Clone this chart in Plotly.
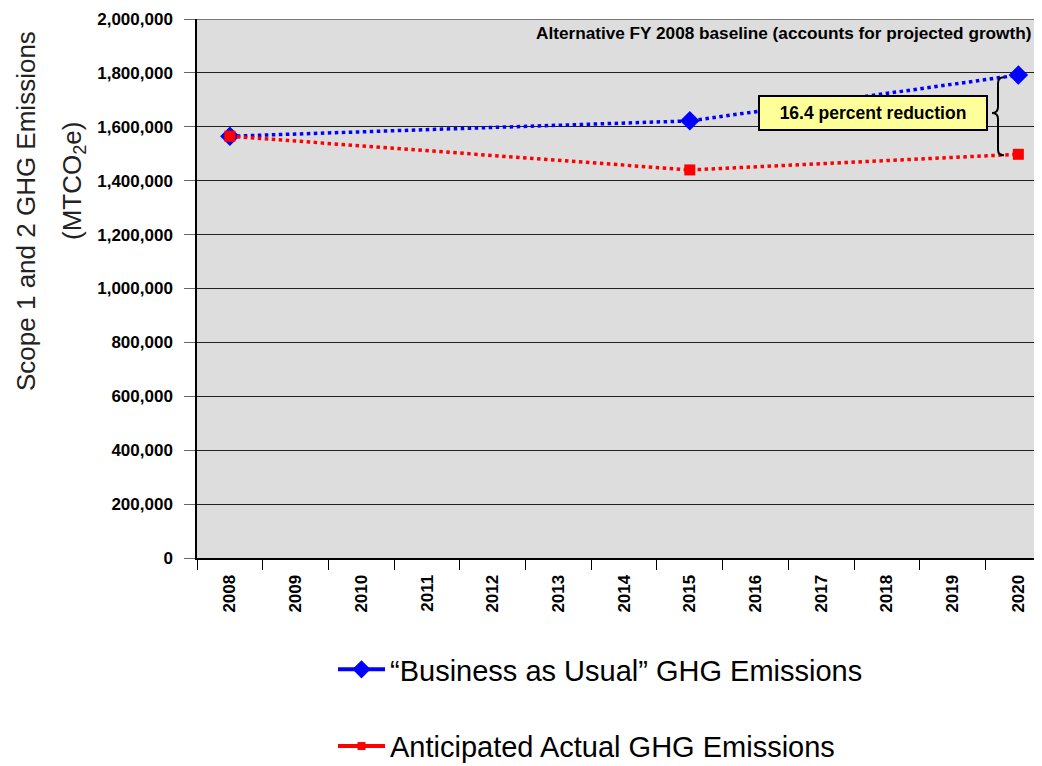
import plotly.graph_objects as go

years = [str(y) for y in range(2008, 2021)]
point_years = ["2008", "2015", "2020"]
bau_values = [1565000, 1622000, 1792000]
actual_values = [1565000, 1440000, 1498000]

bau_name = "\u201cBusiness as Usual\u201d GHG Emissions"
actual_name = "Anticipated Actual GHG Emissions"
y_title_line1 = "Scope 1 and 2 GHG Emissions"
y_title_line2 = "(MTCO<sub>2</sub>e)"
baseline_note = "Alternative FY 2008 baseline (accounts for projected growth)"
reduction_note = "16.4 percent reduction"
y_ticks = list(range(0, 2000001, 200000))

FONT = "Arial, Liberation Sans, sans-serif"
BLUE = "#0000FF"
RED = "#FF0000"

PAGE_W, PAGE_H, OFF = 1042, 766, 8   # page has an 8px body margin
L, R, T, B = 197, 1042, 19, 558      # plot area in page pixels
YMAX = 2000000


def px(xp):
    return (xp - L) / (R - L)


def py(yp):
    return (B - yp) / (B - T)


def vy(yp):
    return py(yp) * YMAX


fig = go.Figure()

# category placeholder so all years appear
fig.add_trace(go.Scatter(x=years, y=[None] * len(years), mode="lines",
                         showlegend=False, hoverinfo="skip"))

fig.add_trace(go.Scatter(
    x=point_years, y=bau_values, mode="lines+markers", showlegend=False,
    line=dict(color=BLUE, width=3.5, dash="dot"),
    marker=dict(symbol="diamond", size=15, color=BLUE)))
fig.add_trace(go.Scatter(
    x=point_years, y=actual_values, mode="lines+markers", showlegend=False,
    line=dict(color=RED, width=3.5, dash="dot"),
    marker=dict(symbol="square", size=11, color=RED)))

# legend entries (solid lines as in the reference)
fig.add_trace(go.Scatter(
    x=[None], y=[None], mode="lines+markers", name=bau_name, legendgroup="a",
    line=dict(color=BLUE, width=4), marker=dict(symbol="diamond", size=14, color=BLUE)))
fig.add_trace(go.Scatter(
    x=[None], y=[None], mode="lines+markers", name=actual_name, legendgroup="b",
    line=dict(color=RED, width=4), marker=dict(symbol="square", size=8, color=RED)))

# brace between BAU 2020 and actual 2020
yt, yb = bau_values[-1] - 8000, actual_values[-1] - 4000
ym = vy(113)
e = 22000
xr, xm, xl = px(1004), px(998), px(992)
brace = (f"M {xr},{yt} Q {xm},{yt} {xm},{yt - e} L {xm},{ym + e} "
         f"Q {xm},{ym} {xl},{ym} Q {xm},{ym} {xm},{ym - e} "
         f"L {xm},{yb + e} Q {xm},{yb} {xr},{yb}")
fig.add_shape(type="path", path=brace, xref="paper", yref="y",
              line=dict(color="black", width=2))

# top border line (gray)
fig.add_shape(type="line", xref="paper", yref="y", x0=0, x1=1, y0=YMAX, y1=YMAX,
              line=dict(color="#777777", width=2))

fig.add_annotation(x=px(783), y=py(33), xref="paper", yref="paper",
                   xanchor="center", yanchor="middle",
                   text=f"<b>{baseline_note}</b>", showarrow=False,
                   font=dict(family=FONT, size=17.2, color="black"))
fig.add_annotation(x=point_years[-1], y=bau_values[-1], xref="x", yref="y",
                   text="", showarrow=True, arrowhead=0, arrowwidth=1,
                   arrowcolor="#555555", ax=-14, ay=-28, standoff=11)
fig.add_annotation(x=px(873), y=vy(112.5), xref="paper", yref="y",
                   xanchor="center", yanchor="middle",
                   text=f"<b>{reduction_note}</b>", showarrow=False,
                   bgcolor="#FFFF99", bordercolor="black", borderwidth=2,
                   borderpad=6, width=214,
                   font=dict(family=FONT, size=17.5, color="black"))

# y-axis title, two rotated lines placed like the reference
fig.add_annotation(x=px(26), y=py(211), xref="paper", yref="paper",
                   xanchor="center", yanchor="middle", textangle=-90,
                   text=y_title_line1, showarrow=False,
                   font=dict(family=FONT, size=26, color="#222222"))
fig.add_annotation(x=px(73), y=py(181), xref="paper", yref="paper",
                   xanchor="center", yanchor="middle", textangle=-90,
                   text=y_title_line2, showarrow=False,
                   font=dict(family=FONT, size=26, color="#222222"))

fig.update_layout(
    width=PAGE_W - OFF, height=PAGE_H - OFF,
    margin=dict(l=L - OFF, r=PAGE_W - R, t=T - OFF, b=PAGE_H - B, autoexpand=False),
    paper_bgcolor="white", plot_bgcolor="#DDDDDD",
    font=dict(family=FONT, color="black"),
    legend=dict(x=px(333), y=py(644), xanchor="left", yanchor="top",
                font=dict(family=FONT, size=29, color="black"),
                tracegroupgap=36, itemwidth=47, bgcolor="rgba(0,0,0,0)"),
    xaxis=dict(type="category", categoryorder="array", categoryarray=years,
               range=[-0.5, 12.36], tickson="boundaries", ticks="outside",
               ticklen=10, tickcolor="black", tickangle=-90,
               ticklabelstandoff=8, automargin=False,
               tickfont=dict(family=FONT, size=17, color="black", weight="bold"),
               showline=True, linecolor="black", linewidth=2,
               showgrid=False, zeroline=False, fixedrange=True),
    yaxis=dict(range=[0, YMAX], tickvals=y_ticks,
               ticktext=[f"{v:,}" for v in y_ticks],
               ticks="outside", ticklen=11, tickcolor="#666666",
               ticklabelstandoff=8, automargin=False,
               tickfont=dict(family=FONT, size=17, color="black", weight="bold"),
               showgrid=True, gridcolor="#222222", gridwidth=1,
               showline=True, linecolor="black", linewidth=1.5,
               zeroline=False),
)

fig.write_html("out.html")
